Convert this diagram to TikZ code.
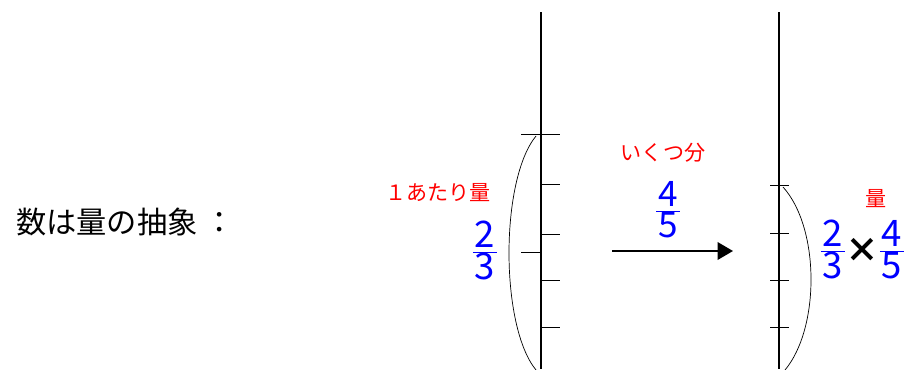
\documentclass[tikz,border=0pt]{standalone}
\usepackage{fontspec}
\setmainfont{Noto Sans CJK JP}
\usepackage{tikz}
\usetikzlibrary{arrows.meta}
\newcommand\frc[2]{$\frac{\mbox{\kern1.5pt#1\kern1.5pt}}{\mbox{\kern1.5pt#2\kern1.5pt}}$}
\tikzset{
  axisline/.style={line width=1.4pt},
  tickline/.style={line width=0.7pt},
  bracearc/.style={line width=0.5pt},
  titlenode/.style={font=\fontsize{21.5}{24}\selectfont,inner sep=0pt},
  rednode/.style={text=red,font=\fontsize{15}{17}\selectfont,inner sep=0pt},
  fracnode/.style={text=blue,font=\fontsize{26}{28}\selectfont,inner sep=0pt,anchor=base},
  arrow/.style={-{Triangle[length=11pt,width=12.5pt]},line width=1.4pt}
}

\begin{document}
\begin{tikzpicture}[x=0.025cm,y=-0.025cm]
  \useasboundingbox (0,0) rectangle (906,369);
  % Title
  \node[titlenode,anchor=west] (title) at (16,222) {数は量の抽象 ：};

  % Left number line
  \coordinate (ltop) at (541,12);
  \coordinate (lbot) at (541,369);
  \draw[axisline] (ltop) -- (lbot);
  \draw[tickline] (521,134) -- (560,134);
  \draw[tickline] (521,252) -- (541,252);
  \foreach \y in {184,234,280,327}
    \draw[tickline] (541,\y) -- (560,\y);
  \draw[bracearc] (536,136) .. controls (500,180) and (500,326) .. (536,370);
  \node[rednode] (unitlabel) at (438,193) {１あたり量};
  \node[fracnode] (unitfrac) at (485,261) {\frc{2}{3}};

  % Arrow with multiplier
  \coordinate (arrS) at (612,251);
  \coordinate (arrE) at (733,251);
  \draw[arrow] (arrS) -- (arrE);
  \node[rednode] (countlabel) at (663,153) {いくつ分};
  \node[fracnode,font=\fontsize{25}{27}\selectfont] (countfrac) at (668,220) {\frc{4}{5}};

  % Right number line
  \coordinate (rtop) at (779,12);
  \coordinate (rbot) at (779,369);
  \draw[axisline] (rtop) -- (rbot);
  \foreach \y in {185,233,280,327}
    \draw[tickline] (770,\y) -- (789,\y);
  \draw[bracearc] (783,187) .. controls (820,228) and (820,328) .. (785,370);
  \node[rednode] (amountlabel) at (876,199) {量};
  \node[fracnode] (prodfracA) at (833,260) {\frc{2}{3}};
  \node[font=\fontsize{24}{26}\selectfont\bfseries,inner sep=0pt] (timessign) at (862,250) {×};
  \node[fracnode] (prodfracB) at (892,260) {\frc{4}{5}};
\end{tikzpicture}
\end{document}
